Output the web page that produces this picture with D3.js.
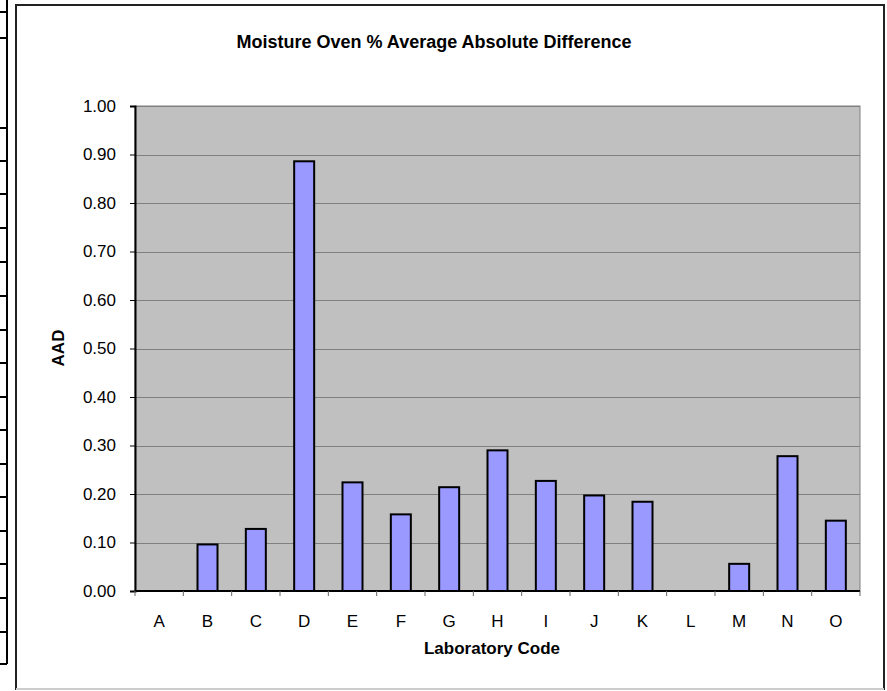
<!doctype html>
<html>
<head>
  <script src="https://d3js.org/d3.v7.min.js"></script>
  <style>
    body { margin: 0; background: #fff; }
    text { font-family: "Liberation Sans", Arial, sans-serif; }
  </style>
</head>
<body>
<svg width="887" height="691"></svg>
<script>
  var labs = ["A", "B", "C", "D", "E", "F", "G", "H", "I", "J", "K", "L", "M", "N", "O"]
  var aad = [null, 0.096, 0.128, 0.886, 0.224, 0.158, 0.214, 0.290, 0.227, 0.197, 0.184, null, 0.056, 0.278, 0.145]
  var yTicks = [0, 0.1, 0.2, 0.3, 0.4, 0.5, 0.6, 0.7, 0.8, 0.9, 1.0]
  // leftover table edge at the left of the sheet
  var tableRows = [12, 38, 128, 161, 194, 228, 262, 296, 330, 363, 397, 430, 464, 497, 531, 564, 598, 632, 664]

  var svg = d3.select("svg")

  // table fragment
  svg.append("line").attr("x1", 7).attr("x2", 7).attr("y1", 0).attr("y2", 664)
    .attr("stroke", "#000").attr("stroke-width", 2)
  svg.selectAll(".trow").data(tableRows).enter().append("line")
    .attr("x1", 0).attr("x2", 7)
    .attr("y1", function(d) { return d }).attr("y2", function(d) { return d })
    .attr("stroke", "#000").attr("stroke-width", 2)

  // chart frame
  svg.append("rect").attr("x", 16).attr("y", 5).attr("width", 868).attr("height", 684)
    .attr("fill", "#fff").attr("stroke", "#222").attr("stroke-width", 2)
  svg.append("line").attr("x1", 16).attr("x2", 884).attr("y1", 689).attr("y2", 689)
    .attr("stroke", "#ccc").attr("stroke-width", 2)

  var pLeft = 135, pRight = 860, pTop = 106, pBottom = 591

  var x = d3.scaleBand().domain(labs).range([pLeft, pRight])
  var y = d3.scaleLinear().domain([0, 1]).range([pBottom, pTop])

  // plot area
  svg.append("rect").attr("x", pLeft).attr("y", pTop).attr("width", pRight - pLeft).attr("height", pBottom - pTop)
    .attr("fill", "#c0c0c0").attr("stroke", "#808080").attr("stroke-width", 1)

  // gridlines
  svg.selectAll(".grid").data(yTicks.slice(1)).enter().append("line")
    .attr("x1", pLeft).attr("x2", pRight)
    .attr("y1", function(d) { return Math.round(y(d)) + 0.5 })
    .attr("y2", function(d) { return Math.round(y(d)) + 0.5 })
    .attr("stroke", "#808080").attr("stroke-width", 1)

  // bars
  var bw = 20
  var barData = labs.map(function(l, i) { return { lab: l, v: aad[i] } }).filter(function(d) { return d.v != null })
  svg.selectAll(".bar").data(barData).enter().append("rect")
    .attr("class", "bar")
    .attr("x", function(d) { return x(d.lab) + x.bandwidth() / 2 - bw / 2 })
    .attr("y", function(d) { return y(d.v) })
    .attr("width", bw)
    .attr("height", function(d) { return pBottom - y(d.v) })
    .attr("fill", "#9999ff").attr("stroke", "#000").attr("stroke-width", 2)

  // y axis
  var yAxis = d3.axisLeft(y).tickValues(yTicks).tickFormat(d3.format(".2f")).tickSize(5).tickPadding(14)
  var gy = svg.append("g").attr("transform", "translate(" + pLeft + ",0)").call(yAxis)
  gy.select(".domain").attr("stroke", "#000").attr("stroke-width", 2)
  gy.selectAll(".tick line").attr("stroke", "#000")
  gy.selectAll("text").attr("font-size", "17px").attr("fill", "#000")
    .style("font-family", "'Liberation Sans', Arial, sans-serif")

  // x axis
  var bandEdges = labs.map(function(l) { return x(l) }).concat([pRight])
  svg.append("line").attr("x1", pLeft).attr("x2", pRight).attr("y1", pBottom).attr("y2", pBottom)
    .attr("stroke", "#000").attr("stroke-width", 2)
  svg.selectAll(".xtick").data(bandEdges).enter().append("line")
    .attr("x1", function(d) { return d }).attr("x2", function(d) { return d })
    .attr("y1", pBottom).attr("y2", pBottom + 5)
    .attr("stroke", "#666").attr("stroke-width", 1)
  svg.selectAll(".xlab").data(labs).enter().append("text")
    .attr("x", function(d) { return x(d) + x.bandwidth() / 2 })
    .attr("y", 627)
    .attr("text-anchor", "middle")
    .attr("font-size", "17px")
    .text(function(d) { return d })

  // titles
  svg.append("text").attr("x", 434).attr("y", 48).attr("text-anchor", "middle")
    .attr("font-size", "18px").attr("font-weight", "bold")
    .text("Moisture Oven % Average Absolute Difference")
  svg.append("text").attr("x", 492).attr("y", 654).attr("text-anchor", "middle")
    .attr("font-size", "17px").attr("font-weight", "bold")
    .text("Laboratory Code")
  svg.append("text").attr("transform", "translate(64,348) rotate(-90)").attr("text-anchor", "middle")
    .attr("font-size", "17px").attr("font-weight", "bold")
    .text("AAD")
</script>
</body>
</html>
